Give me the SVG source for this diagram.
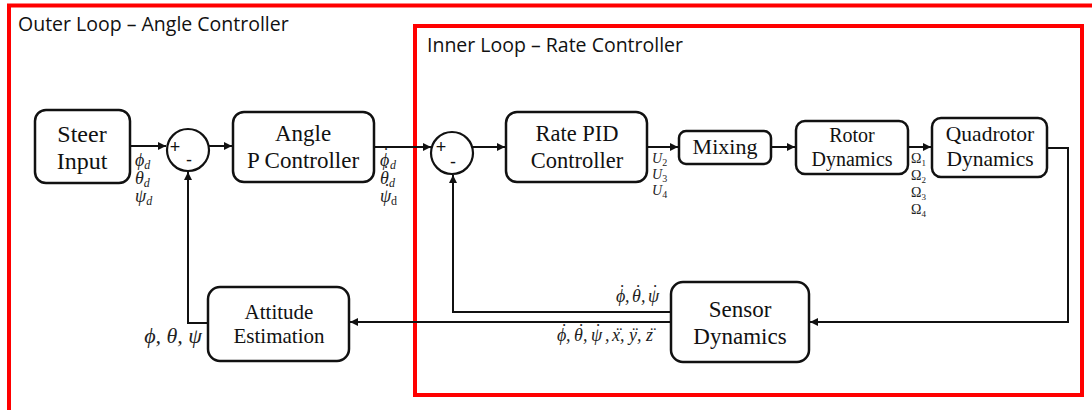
<svg xmlns="http://www.w3.org/2000/svg" width="1092" height="410" viewBox="0 0 1092 410">
  <style>
    .frame { fill: none; stroke: #ff0000; stroke-width: 4; }
    .title { font-family: "Open Sans", "Liberation Sans", sans-serif; font-size: 19.5px; fill: #111; }
    .box { fill: #fff; stroke: #111; stroke-width: 2.5; }
    .sum { fill: #fff; stroke: #111; stroke-width: 2.2; }
    .lbl { font-family: "Liberation Serif", "DejaVu Serif", serif; fill: #111; text-anchor: middle; }
    .sign { font-family: "Liberation Sans", sans-serif; font-size: 18px; fill: #111; text-anchor: middle; }
    .math { font-family: "Liberation Serif", "DejaVu Serif", serif; font-style: italic; fill: #222; }
    .up { font-style: normal; }
    .sub { font-size: 12px; }
    .wire { fill: none; stroke: #111; stroke-width: 2; }
  </style>
  <defs>
    <marker id="arrow" viewBox="0 0 10 10" refX="10" refY="5" markerWidth="9" markerHeight="8" markerUnits="userSpaceOnUse" orient="auto">
      <path d="M0,0 L10,5 L0,10 z" fill="#111"/>
    </marker>
  </defs>

  <!-- loop frames -->
  <g id="outer-loop">
    <rect class="frame" x="9" y="5.5" width="1100" height="420"/>
    <text class="title" x="18" y="31">Outer Loop – Angle Controller</text>
  </g>
  <g id="inner-loop">
    <rect class="frame" x="415" y="26" width="667" height="369"/>
    <text class="title" x="427" y="52">Inner Loop – Rate Controller</text>
  </g>

  <!-- connectors -->
  <g id="connectors">
    <path class="wire" d="M130,146 H166" marker-end="url(#arrow)"/>
    <path class="wire" d="M209,146 H232" marker-end="url(#arrow)"/>
    <path class="wire" d="M374,147 H431" marker-end="url(#arrow)"/>
    <path class="wire" d="M473,147 H505" marker-end="url(#arrow)"/>
    <path class="wire" d="M647,147 H678" marker-end="url(#arrow)"/>
    <path class="wire" d="M771,147 H795" marker-end="url(#arrow)"/>
    <path class="wire" d="M908,147 H931" marker-end="url(#arrow)"/>
    <path class="wire" d="M1047,148 H1068 V322 H810" marker-end="url(#arrow)"/>
    <path class="wire" d="M671,322 H350" marker-end="url(#arrow)"/>
    <path class="wire" d="M671,312 H453 V175" marker-end="url(#arrow)"/>
    <path class="wire" d="M208,323 H188 V172" marker-end="url(#arrow)"/>
  </g>

  <!-- signal labels; dots and double dots are placed glyph by glyph -->
  <g id="signal-labels" style="font-size:18px">
    <!-- attitude references -->
    <text class="math" x="135" y="166">ϕ<tspan class="sub" dy="3">d</tspan></text>
    <text class="math" x="135" y="184">θ<tspan class="sub" dy="3">d</tspan></text>
    <text class="math" x="135" y="202">ψ<tspan class="sub" dy="3">d</tspan></text>
    <!-- rate references -->
    <text class="math" x="380" y="166">ϕ<tspan class="up" x="383" y="161">˙</tspan><tspan class="sub" x="390" y="169">d</tspan></text>
    <text class="math" x="380" y="184">θ<tspan class="up" x="383" y="179">˙</tspan><tspan class="sub" x="389" y="187">d</tspan></text>
    <text class="math" x="380" y="202">ψ<tspan class="up" x="384" y="197">˙</tspan><tspan class="sub up" x="391" y="205">d</tspan></text>
    <!-- control inputs -->
    <text class="math" x="652" y="163" style="font-size:14px">U<tspan class="up" style="font-size:10px" dy="3">2</tspan></text>
    <text class="math" x="652" y="179" style="font-size:14px">U<tspan class="up" style="font-size:10px" dy="3">3</tspan></text>
    <text class="math" x="652" y="195" style="font-size:14px">U<tspan class="up" style="font-size:10px" dy="3">4</tspan></text>
    <!-- rotor speeds -->
    <text class="math up" x="911" y="163" style="font-size:14px">Ω<tspan style="font-size:9px" dy="3">1</tspan></text>
    <text class="math up" x="911" y="180" style="font-size:14px">Ω<tspan style="font-size:9px" dy="3">2</tspan></text>
    <text class="math up" x="911" y="197" style="font-size:14px">Ω<tspan style="font-size:9px" dy="3">3</tspan></text>
    <text class="math up" x="911" y="214" style="font-size:14px">Ω<tspan style="font-size:9px" dy="3">4</tspan></text>
    <!-- measured rates fed back to the inner loop -->
    <text class="math" x="616 618 625 632 634 641 648 651" y="302 298 302 302 298 302 302 298">ϕ˙,θ˙,ψ˙</text>
    <!-- full sensor output -->
    <text class="math" x="557 560 566 574 577 583 591 594 605 612 615 620 629 631 637 646 649" y="341 337 341 341 337 341 341 337 341 341 341 341 341 341 341 341 341">ϕ˙,θ˙,ψ˙,x¨,y¨,z¨</text>
    <!-- estimated attitude -->
    <text class="math" x="202" y="343" text-anchor="end" style="font-size:22px">ϕ, θ, ψ</text>
  </g>

  <!-- summing junctions -->
  <g id="sum-outer">
    <circle class="sum" cx="188" cy="150" r="21"/>
    <text class="sign" x="175" y="153">+</text>
    <text class="sign" x="189" y="166">-</text>
  </g>
  <g id="sum-inner">
    <circle class="sum" cx="452" cy="153" r="21"/>
    <text class="sign" x="441" y="153">+</text>
    <text class="sign" x="453" y="168">-</text>
  </g>

  <!-- blocks -->
  <g id="steer-input" style="font-size:24px">
    <rect class="box" x="35" y="110" width="95" height="73" rx="11"/>
    <text class="lbl" x="82" y="142">Steer</text>
    <text class="lbl" x="82" y="169">Input</text>
  </g>
  <g id="angle-p-controller" style="font-size:23px">
    <rect class="box" x="233" y="112" width="141" height="70" rx="11"/>
    <text class="lbl" x="303" y="141">Angle</text>
    <text class="lbl" x="303" y="168">P Controller</text>
  </g>
  <g id="rate-pid-controller" style="font-size:22.5px">
    <rect class="box" x="506" y="112" width="141" height="70" rx="11"/>
    <text class="lbl" x="577" y="141">Rate PID</text>
    <text class="lbl" x="577" y="168">Controller</text>
  </g>
  <g id="mixing" style="font-size:22px">
    <rect class="box" x="679" y="131" width="92" height="33" rx="7"/>
    <text class="lbl" x="725" y="154">Mixing</text>
  </g>
  <g id="rotor-dynamics" style="font-size:20px">
    <rect class="box" x="796" y="121" width="112" height="53" rx="9"/>
    <text class="lbl" x="852" y="142">Rotor</text>
    <text class="lbl" x="852" y="166">Dynamics</text>
  </g>
  <g id="quadrotor-dynamics" style="font-size:21.5px">
    <rect class="box" x="932" y="118" width="115" height="59" rx="9"/>
    <text class="lbl" x="990" y="141">Quadrotor</text>
    <text class="lbl" x="990" y="166">Dynamics</text>
  </g>
  <g id="sensor-dynamics" style="font-size:23px">
    <rect class="box" x="671" y="282" width="138" height="80" rx="12"/>
    <text class="lbl" x="740" y="317">Sensor</text>
    <text class="lbl" x="740" y="344">Dynamics</text>
  </g>
  <g id="attitude-estimation" style="font-size:21px">
    <rect class="box" x="208" y="287" width="141" height="74" rx="12"/>
    <text class="lbl" x="279" y="319">Attitude</text>
    <text class="lbl" x="279" y="343">Estimation</text>
  </g>
</svg>
